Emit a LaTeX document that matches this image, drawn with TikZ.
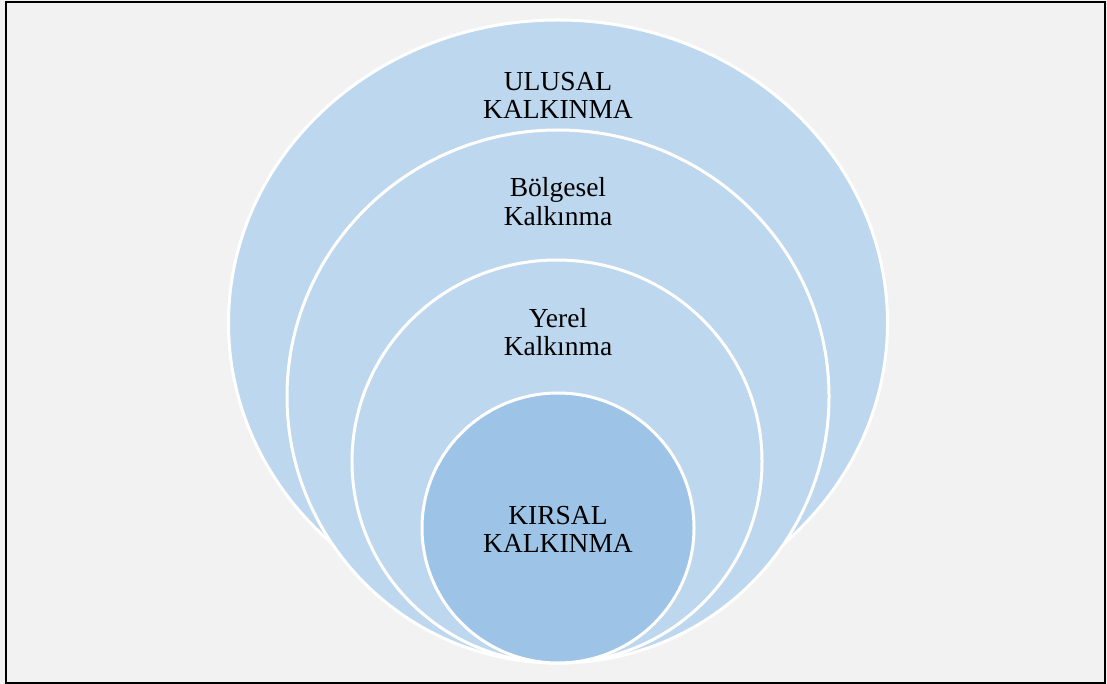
\documentclass[tikz,border=0pt]{standalone}
\usepackage{fontspec}
\setmainfont{Liberation Serif}
\definecolor{bggray}{HTML}{F2F2F2}
\definecolor{lightblue}{HTML}{BDD7EE}
\definecolor{midblue}{HTML}{9DC3E6}
\tikzset{
  ring/.style={fill=lightblue, draw=white, line width=3pt},
  core/.style={fill=midblue, draw=white, line width=3pt},
  lbl/.style={align=center, inner sep=0pt, text=black, font=\fontsize{27.5}{28.5}\selectfont}
}
\begin{document}
\begin{tikzpicture}[x=1pt,y=-1pt]
\useasboundingbox (0,0) rectangle (1107,684);
\fill[bggray] (0,0) rectangle (1107,684);
\draw[black, line width=2pt] (5.5,2.5) rectangle (1105,682.5);
% nested shapes
\path[ring] (558,323) ellipse [x radius=329.5, y radius=303];
\path[ring] (558,396.5) ellipse [x radius=271, y radius=266.5];
\path[ring] (557,461.5) ellipse [x radius=205, y radius=201.5];
\path[core] (558,528) ellipse [x radius=136, y radius=135];
% labels
\node[lbl] (ulusal) at (558,95.5) {ULUSAL\\KALKINMA};
\node[lbl] (bolgesel) at (558,201.5) {Bölgesel\\Kalkınma};
\node[lbl] (yerel) at (558,332) {Yerel\\Kalkınma};
\node[lbl] (kirsal) at (558,529.5) {KIRSAL\\KALKINMA};
\end{tikzpicture}
\end{document}
